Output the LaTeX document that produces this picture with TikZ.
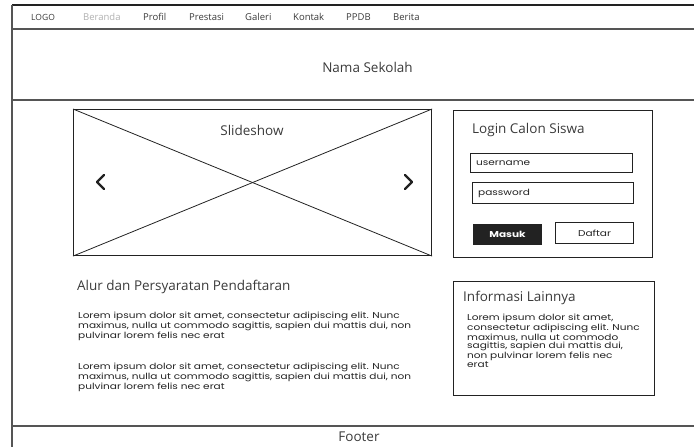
\documentclass[tikz,border=0pt]{standalone}
\usepackage{fontspec}
\setmainfont{Open Sans}
\newfontfamily\hand[FakeStretch=1.24]{Poppins}
\definecolor{ink}{HTML}{222222}
\definecolor{rule}{HTML}{555555}
\definecolor{label}{HTML}{3A3A3A}
\definecolor{muted}{HTML}{B0B0B0}
\tikzset{
  frameline/.style={draw=rule, line width=1.1pt},
  sketchbox/.style={draw=ink, line width=1.1pt},
  navitem/.style={anchor=west, inner sep=0pt, font=\fontsize{9.5}{11}\selectfont, text=label},
  heading/.style={anchor=west, inner sep=0pt, font=\fontsize{13.5}{15}\selectfont, text=label},
  title/.style={inner sep=0pt, font=\fontsize{13.5}{15}\selectfont, text=label},
  handtext/.style={anchor=north west, inner sep=0pt, align=left, text=ink,
    font=\hand\fontsize{8.5}{8.6}\selectfont},
  fieldbox/.style={sketchbox, anchor=north west, inner sep=0pt, minimum height=19pt},
  chevron/.style={draw=ink, line width=2.2pt, line cap=round, line join=round}
}
\begin{document}
\begin{tikzpicture}[x=1pt, y=-1pt]
\useasboundingbox (0,0) rectangle (694,447);

% page frame and section rules
\coordinate (tl) at (12,5);
\coordinate (bl) at (12,447);
\coordinate (tr) at (694,5);
\coordinate (navL) at (12,29);   \coordinate (navR) at (694,29);
\coordinate (hdL) at (12,100);   \coordinate (hdR) at (694,100);
\coordinate (ftL) at (12,426);   \coordinate (ftR) at (694,426);
\draw[draw=ink, line width=1.4pt] (tl) -- (tr);
\draw[frameline] (tl) -- (bl);
\draw[frameline] (navL) -- (navR);
\draw[frameline] (hdL) -- (hdR);
\draw[frameline] (ftL) -- (ftR);

% navigation bar
\node[navitem, font=\fontsize{8.5}{9}\selectfont] (logo) at (31,17) {LOGO};
\node[navitem, text=muted] (beranda) at (83,17) {Beranda};
\node[navitem] (profil) at (143,17) {Profil};
\node[navitem] (prestasi) at (189,17) {Prestasi};
\node[navitem] (galeri) at (245,17) {Galeri};
\node[navitem] (kontak) at (293,17) {Kontak};
\node[navitem] (ppdb) at (346,17) {PPDB};
\node[navitem] (berita) at (393,17) {Berita};

% school name
\node[title] (nama) at (367.5,67) {Nama Sekolah};

% slideshow placeholder
\node[sketchbox, anchor=north west, minimum width=358pt, minimum height=146pt, inner sep=0pt] (slide) at (73,109) {};
\draw[draw=ink, line width=0.8pt] (slide.north west) -- (slide.south east);
\draw[draw=ink, line width=0.8pt] (slide.south west) -- (slide.north east);
\node[title] (slidetitle) at (252,130) {Slideshow};
\coordinate (lt) at (104,175); \coordinate (lm) at (97,182); \coordinate (lb) at (104,189);
\coordinate (rt) at (405,175); \coordinate (rm) at (412,182); \coordinate (rb) at (405,189);
\draw[chevron] (lt) -- (lm) -- (lb);
\draw[chevron] (rt) -- (rm) -- (rb);

% login panel
\node[sketchbox, anchor=north west, minimum width=199pt, minimum height=147pt, inner sep=0pt] (login) at (453,110) {};
\node[heading] (logintitle) at (472,130) {Login Calon Siswa};
\node[fieldbox, minimum width=162pt] (user) at (470,153) {};
\node[handtext, anchor=west] (usertext) at ([xshift=6pt]user.west) {username};
\node[fieldbox, minimum width=161pt, minimum height=21pt] (pass) at (472,182) {};
\node[handtext, anchor=west] (passtext) at ([xshift=6pt]pass.west) {password};
\node[sketchbox, fill=ink, anchor=north west, minimum width=68pt, minimum height=20pt, inner sep=0pt,
      text=white, font=\hand\fontsize{8.5}{9}\selectfont\bfseries] (masuk) at (473,224) {Masuk};
\node[sketchbox, anchor=north west, minimum width=78pt, minimum height=21pt, inner sep=0pt,
      text=ink, font=\hand\fontsize{8.5}{9}\selectfont] (daftar) at (555,222) {Daftar};

% registration flow
\node[heading] (alur) at (77,287) {Alur dan Persyaratan Pendaftaran};
\node[handtext] (para1) at (78,312) {Lorem ipsum dolor sit amet, consectetur adipiscing elit. Nunc\\
maximus, nulla ut commodo sagittis, sapien dui mattis dui, non\\
pulvinar lorem felis nec erat};
\node[handtext] (para2) at (78,363) {Lorem ipsum dolor sit amet, consectetur adipiscing elit. Nunc\\
maximus, nulla ut commodo sagittis, sapien dui mattis dui, non\\
pulvinar lorem felis nec erat};

% other information panel
\node[sketchbox, anchor=north west, minimum width=201pt, minimum height=114pt, inner sep=0pt] (info) at (453,281) {};
\node[heading] (infotitle) at (463,298) {Informasi Lainnya};
\node[handtext] (infotext) at (467,314) {Lorem ipsum dolor sit amet,\\
consectetur adipiscing elit. Nunc\\
maximus, nulla ut commodo\\
sagittis, sapien dui mattis dui,\\
non pulvinar lorem felis nec\\
erat};

% footer
\node[title] (footer) at (359,437) {Footer};
\end{tikzpicture}
\end{document}
